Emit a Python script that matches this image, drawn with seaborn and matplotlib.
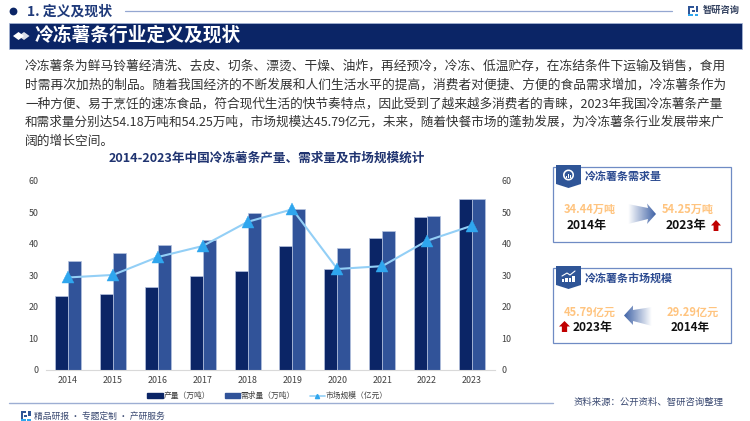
import numpy as np
import pandas as pd
import seaborn as sns
import matplotlib
matplotlib.use("Agg")
import matplotlib.pyplot as plt
from matplotlib.patches import Polygon, Rectangle, Circle, Wedge
from matplotlib.lines import Line2D

years = ["2014", "2015", "2016", "2017", "2018", "2019", "2020", "2021", "2022", "2023"]
production = [23.3, 24.1, 26.4, 29.9, 31.3, 39.2, 32.0, 42.0, 48.6, 54.18]
demand = [34.44, 37.0, 39.6, 41.3, 49.7, 51.0, 38.8, 44.1, 48.9, 54.25]
market = [29.29, 30.1, 35.8, 39.3, 47.0, 51.0, 32.0, 32.9, 41.0, 45.79]
series_names = ["产量（万吨）", "需求量（万吨）", "市场规模（亿元）"]
body_lines = [
    "冷冻薯条为鲜马铃薯经清洗、去皮、切条、漂烫、干燥、油炸，再经预冷，冷冻、低温贮存，在冻结条件下运输及销售，食用",
    "时需再次加热的制品。随着我国经济的不断发展和人们生活水平的提高，消费者对便捷、方便的食品需求增加，冷冻薯条作为",
    "一种方便、易于烹饪的速冻食品，符合现代生活的快节奏特点，因此受到了越来越多消费者的青睐，2023年我国冷冻薯条产量",
    "和需求量分别达54.18万吨和54.25万吨，市场规模达45.79亿元，未来，随着快餐市场的蓬勃发展，为冷冻薯条行业发展带来广",
    "阔的增长空间。",
]

NAVY, BLUE, LINE, MARK = "#0B2566", "#315399", "#93CFF6", "#2FA6EE"
ORANGE, RED, PANEL = "#FFC47F", "#C00000", "#6F8BC4"
W, H = 750, 421

sns.set_theme(style="white")
plt.rcParams["font.family"] = ["Noto Sans CJK SC", "DejaVu Sans"]
fig = plt.figure(figsize=(W / 100, H / 100), dpi=100)

# full-figure canvas in pixel units for the page furniture
bg = fig.add_axes([0, 0, 1, 1], zorder=0)
bg.set_xlim(0, W); bg.set_ylim(H, 0); bg.axis("off")
renderer = fig.canvas.get_renderer()


def fit(text, x0, x1, y, color="#333333", weight="normal", ax=bg):
    t = ax.text(x0, y, text, color=color, weight=weight, va="center", ha="left", fontsize=9)
    w = t.get_window_extent(renderer).width
    t.set_fontsize(9 * (x1 - x0) / w)
    return t


def gradient_arrow(poly, left_alpha, right_alpha):
    xs = [p[0] for p in poly]; ys = [p[1] for p in poly]
    rgba = np.zeros((2, 64, 4))
    rgba[..., :3] = matplotlib.colors.to_rgb("#3F62A6")
    rgba[..., 3] = np.linspace(left_alpha, right_alpha, 64)
    im = bg.imshow(rgba, extent=(min(xs), max(xs), max(ys), min(ys)), aspect="auto", zorder=2)
    im.set_clip_path(Polygon(poly, closed=True, transform=bg.transData))
    bg.set_xlim(0, W); bg.set_ylim(H, 0)


def up_arrow(x0, x1, y0, y1):
    m = (x0 + x1) / 2; s = (x1 - x0) * 0.24; n = y0 + (y1 - y0) * 0.5
    bg.add_patch(Polygon([(m, y0), (x1, n), (m + s, n), (m + s, y1), (m - s, y1), (m - s, n), (x0, n)],
                         color=RED, lw=0, zorder=3))


def logo(x, y, s, c1="#2F5597", c2="#2FA6EE"):
    for a, b, w, h, c in [(0, 0, .55, .2, c1), (0, 0, .2, 1, c1), (.0, .8, .5, .2, c2), (.35, .4, .3, .2, c1),
                          (.75, 0, .25, .55, c1), (.65, .8, .35, .2, c2)]:
        bg.add_patch(Rectangle((x + a * s, y + b * s), w * s, h * s, color=c, lw=0))


# top header
bg.add_patch(Circle((13.5, 11.5), 3.9, color=NAVY, lw=0))
fit("1. 定义及现状", 27, 112, 11.5, "#1F3A7A", "bold")
bg.plot([125, 672], [10.5, 10.5], color="#94A7D1", lw=0.9)
logo(688, 6, 10)
fit("智研咨询", 703, 740, 10.5, "#33415F", "bold")

# title band
bg.add_patch(Rectangle((9, 23), 733, 26, facecolor=NAVY, edgecolor="#A9B8D8", lw=0.5))
for cx, a in [(18.5, 1), (24, .85)]:
    bg.add_patch(Polygon([(cx - 5.5, 36), (cx, 32), (cx + 5.5, 36), (cx, 40)], color="white", alpha=a, lw=0))
fit("冷冻薯条行业定义及现状", 35, 241, 35.5, "white", "bold")

# paragraph
for i, line in enumerate(body_lines):
    y = 66 + i * 18.85
    x1 = 724 if i < 4 else 25 + 7 * 12.7
    fit(line, 25, x1, y, "#333333")

# chart
ax = fig.add_axes([45.5 / W, 1 - 369.5 / H, 449 / W, 188.5 / H], zorder=2)
ax.patch.set_alpha(0)
df = pd.DataFrame({"year": years * 2,
                   "value": production + demand,
                   "series": [series_names[0]] * 10 + [series_names[1]] * 10})
sns.barplot(data=df, x="year", y="value", hue="series", palette=[NAVY, BLUE], width=0.58, gap=0, saturation=1,
            edgecolor="#B5C2DF", linewidth=0.5, legend=False, ax=ax)
ax.set_ylim(0, 60); ax.set_xlim(-0.5, 9.5)
ax.set_xlabel(""); ax.set_ylabel("")
ax.set_yticks(range(0, 61, 10))
ax.tick_params(axis="both", length=0, labelsize=6.4, labelcolor="#404040", pad=5)
ax.tick_params(axis="x", pad=5)
sns.despine(ax=ax, left=True)
ax.spines["bottom"].set_color("#D9D9D9"); ax.spines["bottom"].set_linewidth(0.8)

ax2 = ax.twinx()
ax2.patch.set_alpha(0)
sns.lineplot(x=years, y=market, ax=ax2, color=LINE, lw=1.5, marker="^", markersize=8,
             markerfacecolor=MARK, markeredgecolor=MARK, markeredgewidth=0.3, sort=False, errorbar=None)
ax2.set_ylim(0, 60)
ax2.set_yticks(range(0, 61, 10))
ax2.set_ylabel("")
ax2.tick_params(axis="y", length=0, labelsize=6.4, labelcolor="#404040", pad=5)
for s in ax2.spines.values():
    s.set_visible(False)

fit("2014-2023年中国冷冻薯条产量、需求量及市场规模统计", 109, 426, 158, "#1F3370", "bold")

# legend
handles = [Rectangle((0, 0), 1, 1, color=NAVY), Rectangle((0, 0), 1, 1, color=BLUE),
           Line2D([], [], color=LINE, lw=1.2, marker="^", ms=3, mfc=MARK, mec=MARK)]
fig.legend(handles, series_names, loc="center", bbox_to_anchor=(267.5 / W, 1 - 396 / H), ncol=3, frameon=False,
           fontsize=5.6, handlelength=1.95, handleheight=0.55, handletextpad=0.1, columnspacing=1.9,
           labelcolor="#404040")

# footer
bg.plot([9, 553], [402.7, 402.7], color="#9DAED3", lw=1)
logo(21, 411, 9.5)
fit("精品研报 · 专题定制 · 产研服务", 34, 165, 416, "#3B4A72")
fit("资料来源：公开资料、智研咨询整理", 574, 724, 402, "#3B4A72")

# side panels
for top in (167, 268):
    bg.add_patch(Rectangle((552.5, top), 178.5, 75, facecolor="white", edgecolor=PANEL, lw=0.9))
    bg.add_patch(Polygon([(556, top - 2), (581, top - 2), (581, top + 17), (568.5, top + 21), (556, top + 17)],
                         color="#2F5597", lw=0, zorder=2))

bg.add_patch(Wedge((568.5, 175), 5.5, 0, 360, width=1.6, color="white", lw=0, zorder=3))
for dx, h in [(-2, 2), (0, 3.5), (2, 2.8)]:
    bg.add_patch(Rectangle((568.5 + dx - .6, 177.5 - h), 1.2, h, color="white", lw=0, zorder=3))
for dx, h in [(-5, 3), (-1.5, 4.5), (2, 4), (5.5, 6)]:
    bg.add_patch(Rectangle((568 + dx - 1.1, 282 - h), 2.2, h, color="white", lw=0, zorder=3))
bg.plot([562, 567, 570, 575], [276, 273, 275, 271], color="white", lw=0.8, zorder=3)

fit("冷冻薯条需求量", 585, 662, 177, "#2B4A90", "bold")
fit("34.44万吨", 564, 616, 209, ORANGE, "bold")
fit("2014年", 567, 607, 225, "#111111", "bold")
fit("54.25万吨", 662, 714, 209, ORANGE, "bold")
fit("2023年", 666, 707, 225, "#111111", "bold")
gradient_arrow([(628, 204), (648, 208), (647, 203.5), (656, 214), (647, 224), (648, 219), (628, 224)], 0.0, 1.0)
up_arrow(711, 721, 220, 231)

fit("冷冻薯条市场规模", 585, 673, 278, "#2B4A90", "bold")
fit("45.79亿元", 564, 616, 312, ORANGE, "bold")
fit("29.29亿元", 667, 719, 312, ORANGE, "bold")
fit("2023年", 573, 613, 327, "#111111", "bold")
fit("2014年", 671, 710, 327, "#111111", "bold")
gradient_arrow([(652, 307), (633, 310), (633, 305.5), (624, 315.5), (633, 325), (633, 321), (652, 326)], 1.0, 0.0)
up_arrow(559, 570, 321, 332)

fig.savefig("out.png", dpi=100)
